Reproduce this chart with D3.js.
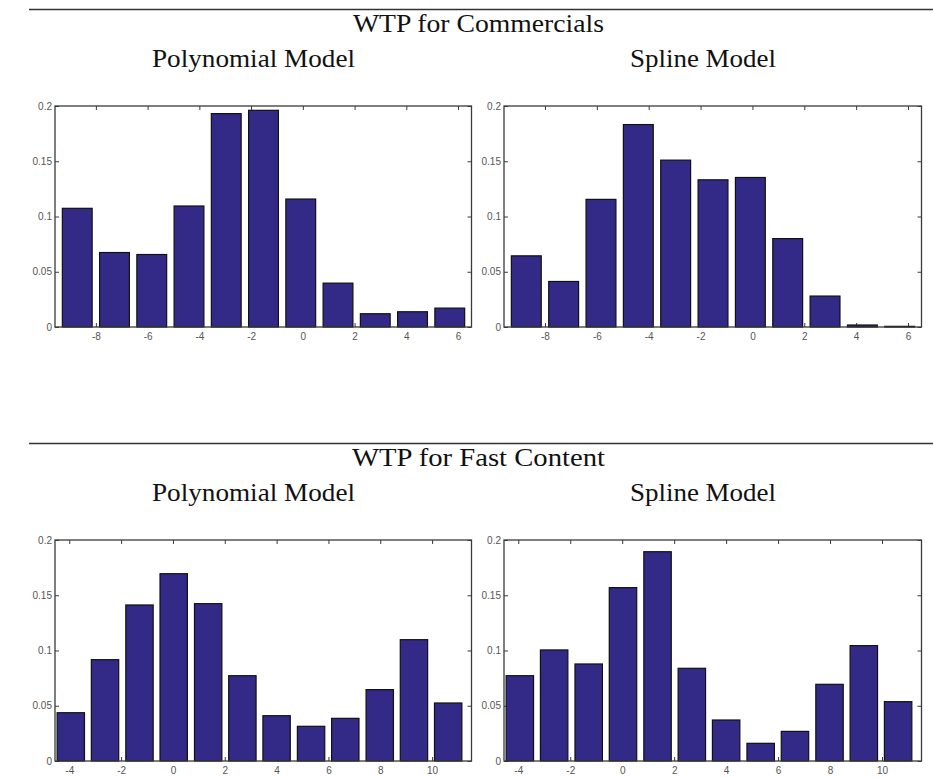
<!DOCTYPE html>
<html>
<head>
<meta charset="utf-8">
<script src="https://cdn.jsdelivr.net/npm/d3@7"></script>
<style>
  body { margin: 0; background: #fff; }
  svg { display: block; }
</style>
</head>
<body>
<svg id="chart" width="933" height="778"></svg>
<script>
// ---- Data ----
const sectionTitles = ["WTP for Commercials", "WTP for Fast Content"];
const modelTitles = ["Polynomial Model", "Spline Model"];

const binsCommercials = [-8.72, -7.28, -5.84, -4.40, -2.96, -1.52, -0.08, 1.36, 2.80, 4.24, 5.68];
const commercialsPolynomial = [0.1074, 0.0674, 0.0656, 0.1095, 0.1931, 0.1961, 0.1158, 0.0397, 0.0120, 0.0138, 0.0171];
const commercialsSpline = [0.0644, 0.0412, 0.1155, 0.1832, 0.1510, 0.1332, 0.1353, 0.0800, 0.0280, 0.0018, 0.0006];
const xTicksCommercials = [-8, -6, -4, -2, 0, 2, 4, 6];
const xDomainCommercials = [-9.58, 6.52];

const binsFast = [-3.94, -2.62, -1.29, 0.03, 1.36, 2.68, 4.00, 5.33, 6.65, 7.98, 9.30, 10.62];
const fastPolynomial = [0.0437, 0.0917, 0.1412, 0.1695, 0.1424, 0.0772, 0.0410, 0.0314, 0.0386, 0.0646, 0.1098, 0.0525];
const fastSpline = [0.0772, 0.1005, 0.0878, 0.1569, 0.1894, 0.0839, 0.0371, 0.0160, 0.0268, 0.0694, 0.1044, 0.0537];
const xTicksFast = [-4, -2, 0, 2, 4, 6, 8, 10];
const xDomainFast = [-4.55, 11.52];

const yTicks = [0, 0.05, 0.1, 0.15, 0.2];
const yTickLabels = ["0", "0.05", "0.1", "0.15", "0.2"];
const yDomain = [0, 0.2];

// ---- Layout ----
const svg = d3.select("#chart");
const barColor = "#332a87";
const axisColor = "#3a3a3a";
const labelColor = "#555";

const sections = [
  { title: sectionTitles[0], ruleY: 9.5, titleY: 31.5, subY: 66.5, top: 106, bottom: 327,
    bins: binsCommercials, domain: xDomainCommercials, ticks: xTicksCommercials,
    series: [commercialsPolynomial, commercialsSpline], titleWidth: 251 },
  { title: sectionTitles[1], ruleY: 443.5, titleY: 465.5, subY: 500.5, top: 540, bottom: 761,
    bins: binsFast, domain: xDomainFast, ticks: xTicksFast,
    series: [fastPolynomial, fastSpline], titleWidth: 253 }
];
const columns = [
  { left: 55, right: 471.5, center: 253.5, titleWidth: 203 },
  { left: 504, right: 921.5, center: 703, titleWidth: 146 }
];

const serif = "'Liberation Serif', 'DejaVu Serif', serif";
const sans = "'Liberation Sans', Arial, sans-serif";

sections.forEach(sec => {
  svg.append("line")
    .attr("x1", 29).attr("x2", 933)
    .attr("y1", sec.ruleY).attr("y2", sec.ruleY)
    .attr("stroke", "#333").attr("stroke-width", 1.5);

  svg.append("text")
    .attr("x", 478.5).attr("y", sec.titleY)
    .attr("text-anchor", "middle")
    .attr("font-family", serif).attr("font-size", 25)
    .attr("textLength", sec.titleWidth)
    .attr("lengthAdjust", "spacingAndGlyphs")
    .attr("fill", "#111")
    .text(sec.title);

  columns.forEach((col, ci) => {
    svg.append("text")
      .attr("x", col.center).attr("y", sec.subY)
      .attr("text-anchor", "middle")
      .attr("font-family", serif).attr("font-size", 25)
      .attr("textLength", col.titleWidth)
      .attr("lengthAdjust", "spacingAndGlyphs")
      .attr("fill", "#111")
      .text(modelTitles[ci]);

    const x = d3.scaleLinear().domain(sec.domain).range([col.left, col.right]);
    const y = d3.scaleLinear().domain(yDomain).range([sec.bottom, sec.top]);
    const g = svg.append("g");

    const styleAxis = sel => {
      sel.select(".domain").remove();
      sel.selectAll(".tick line").attr("stroke", axisColor).attr("stroke-width", 1);
      sel.selectAll(".tick text").attr("fill", labelColor)
        .attr("font-family", sans).attr("font-size", 10);
    };
    g.append("g").attr("transform", `translate(0,${sec.bottom})`)
      .call(d3.axisBottom(x).tickValues(sec.ticks).tickSize(-4).tickPadding(6).tickFormat(d => String(d)))
      .call(styleAxis);
    g.append("g").attr("transform", `translate(0,${sec.top})`)
      .call(d3.axisTop(x).tickValues(sec.ticks).tickSize(-4).tickFormat(""))
      .call(styleAxis);
    g.append("g").attr("transform", `translate(${col.left},0)`)
      .call(d3.axisLeft(y).tickValues(yTicks).tickSize(-4).tickPadding(3)
        .tickFormat((d, i) => yTickLabels[i]))
      .call(styleAxis);
    g.append("g").attr("transform", `translate(${col.right},0)`)
      .call(d3.axisRight(y).tickValues(yTicks).tickSize(-4).tickFormat(""))
      .call(styleAxis);

    const step = sec.bins[1] - sec.bins[0];
    const bw = 0.8 * step;
    g.selectAll("rect.bar")
      .data(sec.series[ci])
      .join("rect")
      .attr("class", "bar")
      .attr("x", (d, i) => x(sec.bins[i] - bw / 2))
      .attr("width", (d, i) => x(sec.bins[i] + bw / 2) - x(sec.bins[i] - bw / 2))
      .attr("y", d => y(d))
      .attr("height", d => y(0) - y(d))
      .attr("fill", barColor)
      .attr("stroke", "#111")
      .attr("stroke-width", 1.2);

    g.append("rect")
      .attr("x", col.left).attr("y", sec.top)
      .attr("width", col.right - col.left).attr("height", sec.bottom - sec.top)
      .attr("fill", "none").attr("stroke", axisColor).attr("stroke-width", 1.3);
  });
});
</script>
</body>
</html>
